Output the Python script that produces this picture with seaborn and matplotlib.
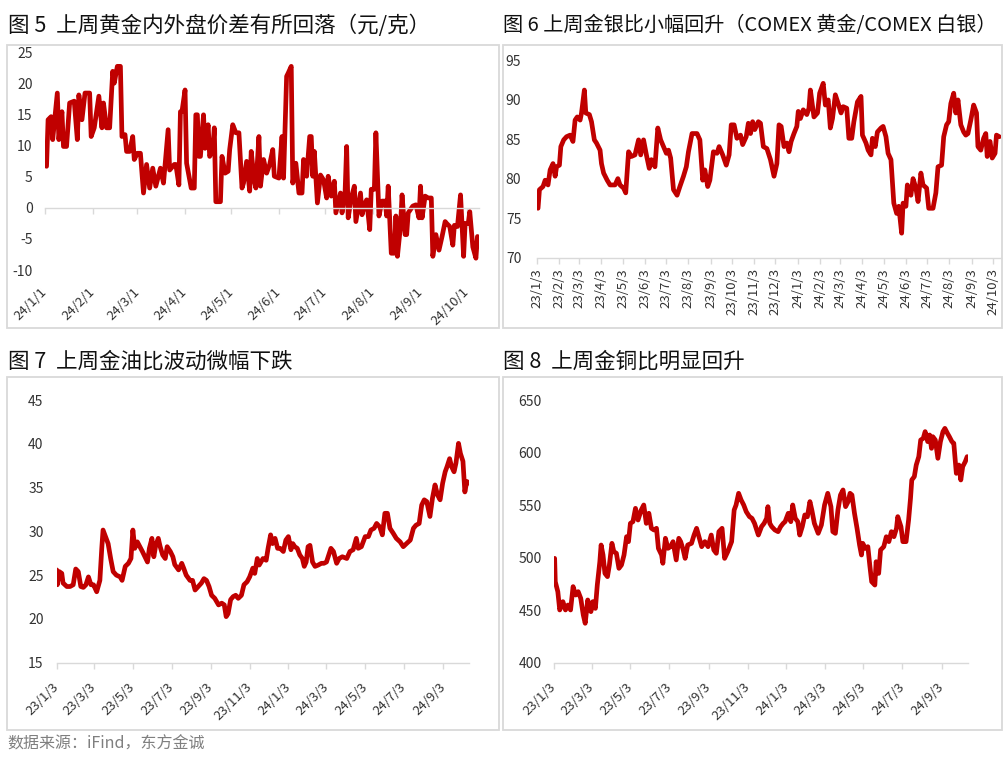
import matplotlib
matplotlib.use("Agg")
import matplotlib.pyplot as plt
import pandas as pd
import seaborn as sns
from matplotlib.patches import Rectangle

# ---------------- data ----------------
# Fig5: gold domestic-foreign spread (yuan/g); days since 2024-01-01
p1_days = [1, 2, 4, 5, 8, 9, 11, 12, 14, 16, 19, 21, 22, 24, 26, 29, 30, 32, 35, 37, 38, 40, 42, 44, 45, 47, 49,
           50, 52, 53, 55, 57, 58, 60, 62, 64, 66, 68, 70, 72, 75, 77, 80, 81, 84, 85, 87, 88, 89, 91, 92, 95, 97,
           98, 99, 100, 101, 103, 104, 106, 107, 109, 110, 111, 114, 115, 117, 119, 120, 122, 124, 126, 128, 129,
           131, 133, 134, 136, 137, 139, 140, 142, 144, 146, 148, 149, 152, 154, 155, 157, 158, 160, 161, 163,
           165, 167, 168, 170, 172, 173, 174, 175, 177, 179, 181, 183, 184, 186, 188, 189, 192, 193, 195, 196,
           197, 199, 201, 202, 205, 206, 208, 209, 211, 212, 214, 215, 217, 219, 221, 222, 223, 225, 227, 228,
           229, 231, 232, 234, 235, 236, 239, 241, 243, 244, 245, 247, 249, 251, 252, 254, 256, 258, 260, 261,
           263, 265, 266, 268, 270, 272, 273, 275, 276, 278, 280, 281]
p1_vals = [6.7, 14.2, 14.7, 11.0, 18.5, 11.0, 15.5, 9.9, 9.9, 16.9, 17.2, 11.0, 18.2, 14.2, 18.5, 18.5, 11.5, 12.9,
           18.0, 12.9, 16.9, 12.9, 12.9, 22.0, 20.1, 22.8, 22.8, 11.5, 11.8, 9.1, 9.1, 11.5, 7.8, 8.8, 8.8, 2.4,
           7.0, 3.2, 6.4, 3.5, 6.4, 4.0, 12.6, 6.1, 7.0, 7.0, 3.7, 15.5, 15.5, 19.0, 7.2, 3.2, 3.2, 15.0, 15.0,
           8.3, 8.3, 15.0, 9.6, 13.4, 8.3, 9.4, 12.9, 1.0, 1.0, 8.3, 5.6, 5.9, 9.4, 13.4, 12.1, 12.1, 3.2, 4.0,
           7.5, 2.7, 9.1, 4.3, 3.2, 11.5, 3.5, 7.8, 5.6, 7.0, 9.4, 5.1, 4.8, 11.5, 4.8, 21.2, 21.7, 22.8, 4.0,
           7.2, 2.4, 2.4, 7.8, 5.1, 11.5, 11.5, 5.1, 9.1, 0.8, 5.3, 4.5, 1.6, 5.1, 1.9, 4.3, -0.8, 2.4, -0.8,
           2.7, 9.9, -1.6, 1.6, 3.5, -2.2, 2.4, -1.1, 0.8, 1.3, -3.5, 3.0, 3.0, 12.1, -1.3, 1.1, 1.1, -1.3, 3.5,
           -7.3, -7.3, -1.3, -7.8, -2.9, 2.1, -4.3, -4.3, -0.8, 0.3, 0.5, -1.6, 3.5, -1.6, 1.9, 1.6, 1.6, -7.8,
           -4.3, -6.8, -4.6, -2.2, -2.5, -3.0, -6.0, -2.8, -3.0, 2.1, -7.8, -2.5, -2.5, -0.6, -6.3, -8.1, -4.6]

# Fig6: gold/silver ratio; days since 2023-01-03
p2_days = [1, 3, 8, 11, 15, 18, 22, 25, 27, 31, 33, 37, 41, 46, 50, 53, 56, 60, 62, 66, 68, 73, 76, 80, 83, 88, 90,
           93, 98, 102, 109, 113, 116, 121, 124, 128, 132, 137, 142, 145, 149, 153, 157, 160, 165, 169, 173, 177,
           181, 184, 187, 191, 196, 200, 205, 209, 212, 217, 224, 228, 232, 235, 239, 242, 247, 252, 255, 260,
           265, 269, 272, 276, 280, 285, 288, 293, 296, 299, 302, 305, 310, 313, 317, 322, 327, 332, 336, 339,
           342, 346, 350, 353, 356, 360, 364, 366, 369, 373, 378, 381, 383, 388, 393, 396, 401, 404, 408, 411,
           414, 418, 422, 426, 429, 434, 437, 441, 444, 449, 454, 456, 461, 464, 468, 470, 474, 477, 482, 485,
           489, 492, 496, 500, 504, 507, 511, 513, 517, 519, 524, 527, 531, 534, 538, 541, 546, 549, 555, 559,
           562, 567, 570, 574, 577, 580, 584, 587, 590, 594, 598, 601, 604, 608, 612, 616, 618, 622, 626, 629,
           631, 635, 638, 642, 644, 648]
p2_vals = [76.25, 78.6, 79.0, 79.8, 79.2, 81.1, 81.9, 80.3, 81.5, 81.7, 84.05, 84.9, 85.3, 85.5, 84.7, 87.4, 87.8,
           87.4, 88.3, 91.2, 88.3, 88.1, 87.2, 84.9, 84.5, 83.6, 81.9, 80.7, 79.8, 79.2, 79.2, 80.0, 79.2, 78.8,
           78.2, 83.4, 82.8, 83.0, 84.9, 83.0, 84.9, 83.0, 81.3, 82.4, 81.5, 86.4, 84.9, 84.05, 83.2, 83.6, 82.6,
           78.6, 77.9, 79.0, 80.3, 81.5, 83.4, 85.7, 85.7, 84.9, 79.8, 81.1, 79.0, 79.8, 83.4, 83.2, 84.05, 83.0,
           81.7, 83.0, 86.8, 86.8, 85.1, 85.5, 84.3, 85.3, 87.0, 85.7, 87.2, 86.2, 87.2, 87.0, 84.05, 83.8, 82.4,
           80.3, 81.9, 86.8, 86.6, 84.05, 84.5, 83.4, 84.7, 85.7, 86.6, 88.5, 87.6, 88.7, 88.1, 88.9, 91.2, 87.8,
           88.3, 90.8, 92.05, 89.3, 89.95, 86.4, 87.6, 90.6, 89.5, 88.3, 89.1, 88.9, 85.1, 85.1, 87.2, 89.7, 90.4,
           85.5, 84.5, 83.6, 83.0, 85.1, 84.05, 85.9, 86.4, 86.6, 85.3, 83.2, 82.4, 76.9, 75.6, 76.5, 73.1, 76.9,
           76.5, 79.2, 77.9, 80.0, 78.8, 77.1, 80.7, 79.2, 78.8, 76.25, 76.25, 78.2, 81.5, 81.7, 85.3, 86.8, 87.2,
           89.5, 90.8, 88.3, 89.95, 86.8, 85.9, 85.5, 85.7, 87.4, 89.3, 88.3, 84.05, 83.6, 85.1, 85.7, 82.8, 84.7,
           82.6, 83.2, 85.5, 85.3]

# Fig7: gold/oil ratio; days since 2023-01-03
p3_days = [0, 1, 4, 8, 10, 16, 21, 26, 30, 34, 38, 42, 46, 50, 54, 58, 63, 68, 71, 73, 78, 81, 85, 89, 94, 100, 103,
           108, 113, 117, 120, 123, 127, 131, 135, 139, 143, 146, 150, 153, 156, 160, 163, 167, 171, 174, 179, 183,
           186, 192, 197, 200, 204, 210, 214, 218, 223, 228, 232, 236, 240, 244, 249, 255, 260, 264, 267, 270,
           274, 278, 282, 286, 291, 295, 300, 304, 309, 312, 316, 319, 325, 330, 333, 337, 340, 344, 348, 352,
           357, 361, 365, 369, 372, 375, 379, 383, 387, 390, 393, 396, 399, 403, 407, 412, 417, 421, 425, 432,
           436, 441, 445, 450, 457, 462, 467, 472, 475, 480, 486, 491, 495, 500, 504, 509, 513, 517, 521, 525,
           530, 535, 541, 546, 551, 557, 562, 566, 571, 575, 579, 583, 588, 592, 596, 600, 604, 608, 612, 615,
           619, 622, 626, 629, 633, 636, 640, 643, 646, 650]
p3_vals = [25.6, 23.9, 25.4, 25.2, 24.1, 23.7, 23.7, 23.9, 25.7, 25.4, 23.7, 23.6, 23.9, 24.8, 23.9, 23.9, 23.1,
           24.4, 28.06, 30.15, 29.2, 28.6, 26.9, 25.4, 25.0, 24.8, 24.4, 26.0, 26.35, 26.9, 30.15, 28.06, 28.8,
           28.25, 27.7, 27.1, 26.5, 28.06, 29.2, 27.1, 28.4, 29.2, 28.25, 27.3, 26.9, 28.25, 27.7, 27.1, 26.2,
           25.6, 26.35, 25.8, 25.0, 24.4, 24.4, 23.3, 23.7, 24.1, 24.6, 24.4, 23.7, 22.7, 22.35, 21.6, 21.8, 21.6,
           20.26, 20.6, 22.2, 22.55, 22.7, 22.35, 22.7, 23.9, 24.25, 24.8, 25.8, 25.2, 26.9, 26.15, 26.9, 26.7,
           28.06, 29.6, 28.6, 29.2, 28.06, 28.06, 27.7, 29.0, 29.4, 27.9, 28.6, 28.25, 28.06, 27.3, 26.9, 26.0,
           26.5, 28.25, 28.4, 26.5, 26.0, 26.15, 26.35, 26.35, 26.5, 28.06, 27.7, 26.35, 26.9, 27.1, 26.9, 27.7,
           27.9, 29.2, 28.06, 28.25, 29.4, 29.4, 30.15, 30.35, 30.9, 30.5, 29.6, 32.06, 32.06, 30.35, 29.8, 29.2,
           28.8, 28.25, 28.6, 29.0, 30.35, 30.7, 30.9, 33.0, 33.6, 33.4, 31.7, 33.8, 35.3, 34.15, 33.6, 35.5,
           36.8, 37.4, 38.3, 37.4, 36.8, 37.8, 40.05, 38.9, 38.0, 34.5, 35.7, 35.5]

# Fig8: gold/copper ratio; days since 2023-01-03
p4_days = [1, 2, 6, 9, 14, 18, 22, 26, 30, 34, 38, 42, 46, 49, 53, 58, 61, 65, 68, 72, 74, 77, 80, 84, 87, 91, 94,
           98, 102, 106, 110, 114, 117, 120, 124, 128, 132, 137, 141, 145, 149, 153, 157, 161, 164, 169, 171, 175,
           179, 183, 187, 192, 196, 199, 203, 206, 210, 216, 220, 224, 229, 232, 237, 242, 247, 251, 255, 259,
           264, 268, 273, 279, 283, 286, 290, 294, 298, 302, 307, 311, 315, 321, 326, 330, 334, 336, 339, 342,
           347, 352, 356, 360, 363, 368, 372, 375, 379, 383, 386, 390, 394, 398, 402, 405, 409, 415, 420, 425,
           430, 435, 438, 442, 446, 450, 454, 458, 462, 465, 468, 472, 476, 480, 483, 485, 489, 493, 496, 499,
           504, 506, 510, 513, 518, 522, 526, 530, 534, 538, 540, 545, 548, 553, 557, 560, 562, 566, 569, 573,
           576, 580, 583, 587, 590, 593, 595, 599, 603, 607, 611, 614, 618, 621, 625, 628, 632, 636, 639, 642,
           646, 649]
p4_vals = [499.3, 477.1, 467.6, 450.2, 458.1, 450.2, 454.9, 450.2, 472.4, 464.4, 467.6, 461.3, 445.4, 437.5, 459.7,
           448.6, 458.1, 451.7, 473.9, 496.1, 512.0, 502.5, 485.0, 481.9, 493.0, 513.6, 505.7, 504.1, 489.8, 493.0,
           502.5, 519.9, 515.2, 532.6, 534.2, 546.9, 535.8, 545.3, 550.1, 532.6, 542.2, 527.9, 526.3, 527.9, 508.8,
           502.5, 494.6, 518.4, 508.8, 510.4, 515.2, 497.8, 518.4, 515.2, 507.3, 499.3, 512.0, 513.6, 521.5, 527.9,
           516.8, 510.4, 515.2, 510.4, 521.5, 507.3, 504.1, 524.7, 527.9, 499.3, 505.7, 515.2, 545.3, 550.1, 561.2,
           554.8, 550.1, 543.7, 539.0, 537.4, 532.6, 521.5, 529.5, 532.6, 537.4, 548.5, 532.6, 529.5, 526.3, 524.7,
           529.5, 532.6, 534.2, 542.2, 534.2, 550.1, 537.4, 534.2, 521.5, 529.5, 540.6, 538.9, 553.3, 545.3, 532.6,
           523.1, 531.0, 550.1, 561.2, 548.5, 524.7, 523.1, 545.3, 559.6, 564.4, 548.5, 553.3, 561.2, 559.6, 542.2,
           527.9, 512.0, 502.5, 513.6, 508.8, 510.4, 493.0, 477.1, 473.9, 496.1, 485.0, 507.3, 510.4, 519.9, 515.2,
           524.7, 519.9, 527.9, 539.0, 529.5, 515.2, 515.2, 535.8, 556.4, 573.9, 577.1, 588.1, 596.1, 611.9, 613.5,
           619.9, 610.4, 616.7, 604.0, 615.1, 611.9, 594.5, 610.4, 619.9, 623.0, 618.3, 615.1, 610.4, 608.8, 580.2,
           588.1, 573.9, 586.6, 591.3, 596.1]

p1_ticks = ["2024-01-01", "2024-02-01", "2024-03-01", "2024-04-01", "2024-05-01", "2024-06-01",
            "2024-07-01", "2024-08-01", "2024-09-01", "2024-10-01"]
p1_labels = ["24/1/1", "24/2/1", "24/3/1", "24/4/1", "24/5/1", "24/6/1", "24/7/1", "24/8/1", "24/9/1", "24/10/1"]
p2_ticks = ["2023-%02d-03" % m for m in range(1, 13)] + ["2024-%02d-03" % m for m in range(1, 11)]
p2_labels = ["23/%d/3" % m for m in range(1, 13)] + ["24/%d/3" % m for m in range(1, 11)]
p34_ticks = ["2023-01-03", "2023-03-03", "2023-05-03", "2023-07-03", "2023-09-03", "2023-11-03",
             "2024-01-03", "2024-03-03", "2024-05-03", "2024-07-03", "2024-09-03"]
p34_labels = ["23/1/3", "23/3/3", "23/5/3", "23/7/3", "23/9/3", "23/11/3",
              "24/1/3", "24/3/3", "24/5/3", "24/7/3", "24/9/3"]

titles = ["图 5  上周黄金内外盘价差有所回落（元/克）",
          "图 6 上周金银比小幅回升（COMEX 黄金/COMEX 白银）",
          "图 7  上周金油比波动微幅下跌",
          "图 8  上周金铜比明显回升"]
source_text = "数据来源：iFind，东方金诚"

# ---------------- style ----------------
sns.set_theme(style="white")
plt.rcParams["font.family"] = ["Noto Sans CJK SC", "DejaVu Sans"]
plt.rcParams["axes.unicode_minus"] = False

RED = "#C00000"
GRID = "#D9D9D9"
TXT = "#333333"
W, H = 1004, 768

fig = plt.figure(figsize=(W / 100, H / 100), dpi=100)
fig.patch.set_facecolor("white")


def rect(l, t, r, b):
    return [l / W, 1 - b / H, (r - l) / W, (b - t) / H]


# panel frames
for (l, t, r, b) in [(7, 45, 499, 328), (503, 45, 1002, 328), (7, 377, 499, 730), (503, 377, 1002, 730)]:
    fig.patches.append(Rectangle((l / W, 1 - b / H), (r - l) / W, (b - t) / H, transform=fig.transFigure,
                                 fill=False, edgecolor=GRID, linewidth=1.3))


def to_dates(base, days):
    return pd.Timestamp(base) + pd.to_timedelta(days, unit="D")


def draw(ax, base, days, vals, xlim_days, ylim, yticks, ticks, labels, rot, xpad, ypad, zero_axis=False):
    df = pd.DataFrame({"date": to_dates(base, days), "value": vals})
    sns.lineplot(data=df, x="date", y="value", ax=ax, color=RED, linewidth=3.4,
                 solid_joinstyle="round", solid_capstyle="round", estimator=None, sort=False)
    ax.set_xlim(pd.Timestamp(base) + pd.Timedelta(days=xlim_days[0]),
                pd.Timestamp(base) + pd.Timedelta(days=xlim_days[1]))
    ax.set_ylim(*ylim)
    for s in ["top", "left", "right"]:
        ax.spines[s].set_visible(False)
    if zero_axis:
        ax.spines["bottom"].set_position(("data", 0))
    ax.spines["bottom"].set_color(GRID)
    ax.spines["bottom"].set_linewidth(1.0)
    ax.set_yticks(yticks)
    ax.set_yticklabels([str(v) for v in yticks])
    ax.set_xticks(pd.to_datetime(ticks))
    if rot == 45:
        ax.set_xticklabels(labels, rotation=45, ha="right", va="center", rotation_mode="anchor")
    else:
        ax.set_xticklabels(labels, rotation=90, ha="center", va="top")
    ax.set_xlabel("")
    ax.set_ylabel("")
    ax.set_facecolor("none")
    ax.tick_params(axis="x", bottom=True, direction="out", length=4, width=1, color=GRID,
                   labelsize=9.5, labelcolor=TXT, pad=xpad)
    ax.tick_params(axis="y", left=False, length=0, labelsize=10, labelcolor=TXT, pad=ypad)
    ax.grid(False)


ax1 = fig.add_axes(rect(45, 52.7, 479, 270))
draw(ax1, "2024-01-01", p1_days, p1_vals, (0, 282), (-10, 25), list(range(-10, 26, 5)),
     p1_ticks, p1_labels, 45, 55, 9, zero_axis=True)

ax2 = fig.add_axes(rect(536.6, 60, 1000.75, 257.7))
draw(ax2, "2023-01-03", p2_days, p2_vals, (-1, 650), (70, 95), list(range(70, 96, 5)),
     p2_ticks, p2_labels, 90, 3.6, 11)

ax3 = fig.add_axes(rect(56.7, 400, 469.3, 662.7))
draw(ax3, "2023-01-03", p3_days, p3_vals, (0, 650), (15, 45), list(range(15, 46, 5)),
     p34_ticks, p34_labels, 45, 12, 9.5)

ax4 = fig.add_axes(rect(554, 400, 967.8, 662.7))
draw(ax4, "2023-01-03", p4_days, p4_vals, (0, 650), (400, 650), list(range(400, 651, 50)),
     p34_ticks, p34_labels, 45, 12, 9)

# titles
fig.text(8 / W, 1 - 26 / H, titles[0], fontsize=15.5, ha="left", va="center", color="#111111")
fig.text(503 / W, 1 - 26 / H, titles[1], fontsize=14.5, ha="left", va="center", color="#111111")
fig.text(8 / W, 1 - 362 / H, titles[2], fontsize=15.5, ha="left", va="center", color="#111111")
fig.text(503 / W, 1 - 362 / H, titles[3], fontsize=15.5, ha="left", va="center", color="#111111")
fig.text(7 / W, 1 - 744 / H, source_text, fontsize=11.5, ha="left", va="center", color="#7F7F7F")

fig.savefig("out.png", dpi=100, facecolor="white")
